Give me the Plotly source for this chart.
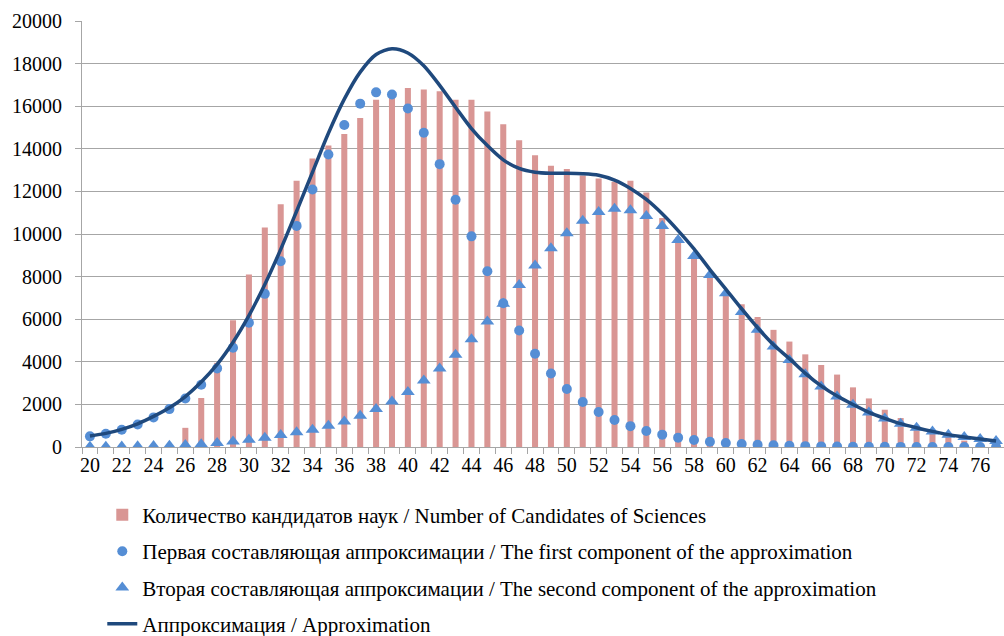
import plotly.graph_objects as go

ages = list(range(20, 78))

candidates = [0, 0, 0, 0, 0, 0, 900, 2300, 3950, 5950,
              8100, 10300, 11400, 12500, 13550, 14150, 14700, 15450, 16300, 16450,
              16850, 16780, 16700, 16300, 16300, 15750, 15150, 14400, 13700, 13200,
              13050, 12750, 12600, 12450, 12500, 11950, 10750, 9850, 8950, 8000,
              7200, 6700, 6100, 5500, 4950, 4350, 3850, 3400, 2800, 2280,
              1750, 1360, 1000, 700, 480, 300, 200, 110]

first_comp = [500, 625, 810, 1060, 1390, 1780, 2280, 2920, 3690, 4660,
              5830, 7190, 8720, 10380, 12090, 13730, 15120, 16120, 16650, 16550,
              15890, 14750, 13280, 11610, 9890, 8250, 6750, 5470, 4380, 3450,
              2720, 2110, 1640, 1270, 980, 750, 580, 440, 330, 250,
              190, 140, 105, 78, 55, 40, 28, 20, 14, 10,
              7, 5, 3, 2, 1, 1, 1, 0]

second_comp = [10, 15, 20, 30, 45, 60, 90, 130, 190, 260,
               340, 440, 560, 690, 810, 1000, 1200, 1470, 1780, 2140,
               2580, 3120, 3690, 4330, 5060, 5890, 6730, 7610, 8520, 9330,
               10030, 10620, 11030, 11190, 11120, 10840, 10370, 9720, 8970, 8080,
               7220, 6340, 5500, 4720, 4090, 3420, 2840, 2370, 1980, 1620,
               1340, 1090, 900, 730, 580, 470, 375, 280]

approximation = [520, 640, 830, 1090, 1435, 1840, 2370, 3050, 3880, 4920,
                 6170, 7630, 9280, 11070, 12900, 14730, 16330, 17600, 18430, 18700,
                 18500, 17900, 16980, 15950, 14950, 14150, 13480, 13080, 12900, 12850,
                 12850, 12830, 12760, 12530, 12140, 11620, 10950, 10160, 9300, 8330,
                 7410, 6480, 5600, 4800, 4150, 3460, 2870, 2390, 1995, 1630,
                 1347, 1095, 903, 732, 581, 471, 376, 280]

y_ticks = list(range(0, 20001, 2000))
x_tick_labels = list(range(20, 77, 2))

FONT = "Times New Roman, Liberation Serif, DejaVu Serif, serif"
GRID = "#A6A6A6"

fig = go.Figure()

fig.add_trace(go.Bar(
    x=ages, y=candidates,
    name="Количество кандидатов наук / Number of Candidates of Sciences",
    marker=dict(color="#D99694", line=dict(width=0)),
    legendgroup="a",
))
fig.add_trace(go.Scatter(
    x=ages, y=first_comp, mode="markers",
    name="Первая составляющая аппроксимации / The first component of the approximation",
    marker=dict(symbol="circle", size=10, color="#558ED5"),
    legendgroup="b",
))
fig.add_trace(go.Scatter(
    x=ages, y=second_comp, mode="markers",
    name="Вторая составляющая аппроксимации / The second component of the approximation",
    marker=dict(symbol="triangle-up", size=12, color="#558ED5"),
    legendgroup="c",
))
fig.add_trace(go.Scatter(
    x=ages, y=approximation, mode="lines",
    name="Аппроксимация / Approximation",
    line=dict(color="#1F497D", width=3.5, shape="spline", smoothing=0.8),
    legendgroup="d",
))

fig.update_layout(
    width=1004, height=636,
    margin=dict(l=82, r=0, t=21, b=189, autoexpand=False),
    paper_bgcolor="white",
    plot_bgcolor="white",
    font=dict(family=FONT, size=20, color="black"),
    bargap=0.62,
    showlegend=True,
    legend=dict(
        x=0.022, xanchor="left",
        y=-0.112, yanchor="top",
        traceorder="grouped",
        tracegroupgap=6,
        font=dict(family=FONT, size=21, color="black"),
        itemwidth=30,
        bgcolor="rgba(0,0,0,0)",
    ),
    xaxis=dict(
        range=[19.5, 77.5],
        tickmode="array",
        tickvals=x_tick_labels,
        ticktext=[str(v) for v in x_tick_labels],
        ticks="",
        showgrid=False,
        showline=True, linecolor=GRID, linewidth=1,
        zeroline=False,
        tickfont=dict(family=FONT, size=20, color="black"),
        minor=dict(tick0=19.5, dtick=1, ticks="outside", ticklen=6,
                   tickcolor=GRID, showgrid=False),
        fixedrange=True,
    ),
    yaxis=dict(
        range=[0, 20000],
        tickmode="array",
        tickvals=y_ticks,
        ticktext=[str(v) for v in y_ticks],
        ticks="outside", ticklen=6, tickcolor=GRID,
        showgrid=True, gridcolor=GRID, gridwidth=1,
        showline=True, linecolor=GRID, linewidth=1,
        zeroline=False,
        ticklabelstandoff=9,
        tickfont=dict(family=FONT, size=20, color="black"),
        fixedrange=True,
    ),
)

fig.write_html("out.html")
